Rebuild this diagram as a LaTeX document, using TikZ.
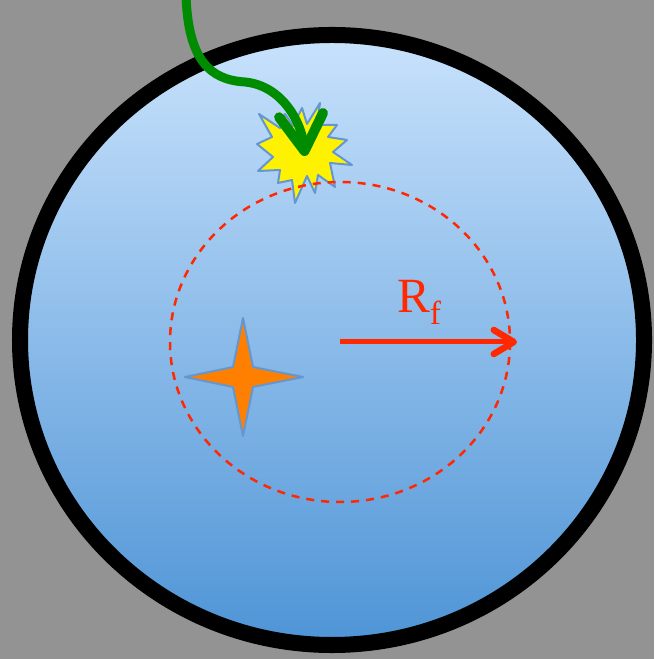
\documentclass[tikz,border=0pt]{standalone}
\usepackage{fontspec}
\setmainfont{Liberation Serif}
\usetikzlibrary{arrows.meta}
\definecolor{bggray}{RGB}{147,147,147}
\definecolor{celltop}{RGB}{200,226,252}
\definecolor{cellbot}{RGB}{78,148,214}
\definecolor{pathgreen}{RGB}{0,140,0}
\definecolor{fred}{RGB}{255,40,0}
\definecolor{edgeblue}{RGB}{100,150,210}
\definecolor{starorange}{RGB}{255,128,0}

\begin{document}
\begin{tikzpicture}[x=0.01cm,y=-0.01cm,
    outline/.style={draw=edgeblue, line width=0.02cm, line join=round}]
    \useasboundingbox (0,0) rectangle (654,659);
    \fill[bggray] (0,0) rectangle (654,659);
    % cell
    \coordinate (cell) at (332,340);
    \shade[top color=celltop, bottom color=cellbot] (cell) ellipse [x radius=312, y radius=305];
    \draw[line width=0.16cm] (cell) ellipse [x radius=312, y radius=305];
    % hit point
    \fill[yellow, outline] (320,103) -- (317,125) -- (337,125) -- (328,137) -- (347,140) -- (333,152)
        -- (352,165) -- (330,163) -- (335,187) -- (318,175) -- (315,193) -- (307,176)
        -- (295,203) -- (292,180) -- (278,183) -- (280,170) -- (258,171) -- (273,157)
        -- (257,144) -- (272,137) -- (259,114) -- (280,128) -- (285,114) -- (293,126)
        -- (302,108) -- (307,124) -- cycle;
    % focus region
    \coordinate (fc) at (340,342);
    \coordinate (fedge) at (517,342);
    \draw[fred, line width=0.025cm, dash pattern=on 0.08cm off 0.07cm] (fc) ellipse [x radius=170, y radius=160];
    \draw[fred, line width=0.05cm, -{Straight Barb[length=0.2cm, width=0.24cm, line width=0.065cm, round]}] (fc) -- (fedge);
    \node[fred, font=\fontsize{14}{14}\selectfont, inner sep=0pt] (rlabel) at (419,302)
        {R\raisebox{-3.4pt}{\fontsize{9.5}{9.5}\selectfont f}};
    % source star
    \fill[starorange, outline] (243,318) -- (253,367) -- (303,377) -- (253,387)
        -- (243,436) -- (233,387) -- (185,377) -- (233,367) -- cycle;
    % incoming path
    \coordinate (entry) at (186,-5);
    \coordinate (hit) at (305,156);
    \draw[pathgreen, line width=0.09cm, -{Straight Barb[length=0.36cm, width=0.44cm, line width=0.1cm, round]}]
        (entry) .. controls (188,60) and (210,80) .. (245,82) .. controls (284,86) and (302,125) .. (hit);
\end{tikzpicture}
\end{document}
